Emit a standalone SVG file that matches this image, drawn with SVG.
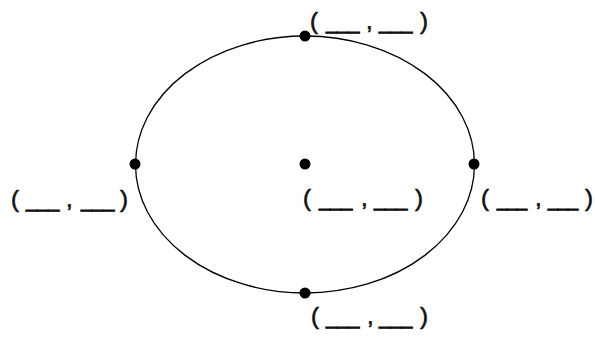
<svg xmlns="http://www.w3.org/2000/svg" width="595" height="342" viewBox="0 0 595 342">
<style>
.lbl{font-family:"Liberation Sans",Arial,sans-serif;font-size:24px;fill:#111;stroke:#111;stroke-width:0.6}
.u{font-size:20px;stroke-width:0.9}
.ur{font-size:18px;stroke-width:1}
.dot{fill:#000}
</style>
<rect width="595" height="342" fill="#fff"/>
<g id="connectors">
<ellipse cx="305" cy="164.5" rx="169.5" ry="128.5" fill="none" stroke="#000" stroke-width="1.3"/>
</g>
<g id="top">
<circle class="dot" cx="305" cy="36" r="5.5"/>
<text class="lbl" y="29"><tspan x="310">(</tspan><tspan class="u" x="326">___</tspan><tspan x="366">,</tspan><tspan class="u" x="379">___</tspan><tspan x="420">)</tspan></text>
</g>
<g id="left">
<circle class="dot" cx="135" cy="164" r="5.5"/>
<text class="lbl" y="207"><tspan x="11">(</tspan><tspan class="u" x="26">___</tspan><tspan x="66">,</tspan><tspan class="u" x="81">___</tspan><tspan x="120">)</tspan></text>
</g>
<g id="center">
<circle class="dot" cx="305" cy="164" r="5.5"/>
<text class="lbl" y="206"><tspan x="303">(</tspan><tspan class="u" x="319">___</tspan><tspan x="361">,</tspan><tspan class="u" x="374">___</tspan><tspan x="415">)</tspan></text>
</g>
<g id="right">
<circle class="dot" cx="474" cy="164" r="5.5"/>
<text class="lbl" y="206"><tspan x="481">(</tspan><tspan class="ur" x="497">___</tspan><tspan x="535">,</tspan><tspan class="ur" x="548">___</tspan><tspan x="585">)</tspan></text>
</g>
<g id="bottom">
<circle class="dot" cx="305" cy="293" r="5.5"/>
<text class="lbl" y="324"><tspan x="311">(</tspan><tspan class="u" x="326">___</tspan><tspan x="367">,</tspan><tspan class="u" x="379">___</tspan><tspan x="420">)</tspan></text>
</g>
</svg>
